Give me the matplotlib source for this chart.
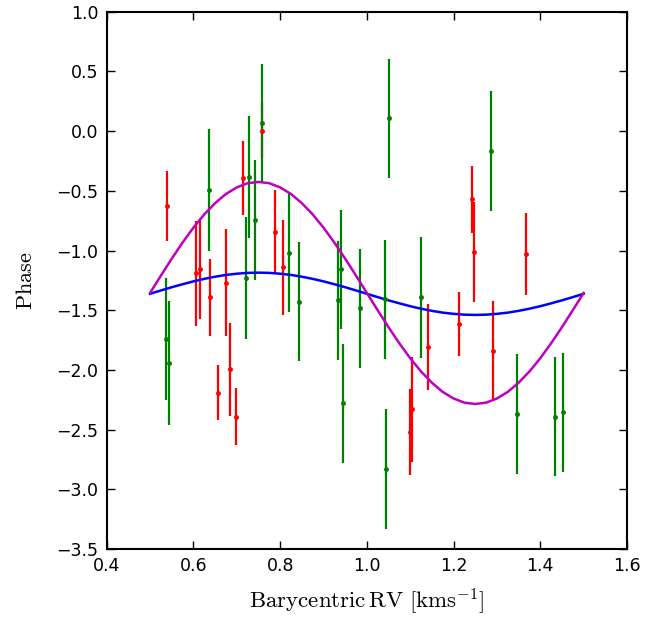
import numpy as np
import matplotlib
matplotlib.use("Agg")
import matplotlib.pyplot as plt

plt.rcParams['mathtext.fontset'] = 'cm'

# red measurements: RV, phase, error
red_rv = [0.540, 0.714, 0.759, 0.787, 0.807, 0.605, 0.615, 0.639, 0.674, 0.656,
          0.684, 0.698, 1.242, 1.246, 1.366, 1.212, 1.142, 1.291, 1.100, 1.104]
red_phase = [-0.627, -0.395, 0.003, -0.843, -1.141, -1.191, -1.155, -1.392, -1.268, -2.191,
             -1.993, -2.392, -0.569, -1.010, -1.029, -1.617, -1.806, -1.842, -2.518, -2.330]
red_err = [0.29, 0.31, 0.23, 0.35, 0.40, 0.44, 0.42, 0.32, 0.45, 0.23,
           0.39, 0.24, 0.28, 0.42, 0.34, 0.27, 0.36, 0.42, 0.36, 0.44]

# green measurements
green_rv = [0.636, 0.728, 0.759, 0.742, 0.722, 0.821, 0.843, 0.934, 0.941, 0.985, 0.945,
            0.536, 0.543, 1.050, 1.287, 1.041, 1.126, 1.044, 1.346, 1.435, 1.452]
green_phase = [-0.493, -0.382, 0.065, -0.745, -1.233, -1.018, -1.429, -1.418, -1.157, -1.484, -2.280,
               -1.744, -1.945, 0.107, -0.167, -1.408, -1.393, -2.830, -2.369, -2.392, -2.355]
green_err = [0.51, 0.51, 0.50, 0.50, 0.51, 0.50, 0.50, 0.50, 0.50, 0.50, 0.50,
             0.51, 0.52, 0.50, 0.50, 0.50, 0.51, 0.50, 0.50, 0.50, 0.50]

# model curves
curve_rv = [0.500, 0.525, 0.550, 0.575, 0.600, 0.625, 0.650, 0.675, 0.700, 0.725,
            0.750, 0.775, 0.800, 0.825, 0.850, 0.875, 0.900, 0.925, 0.950, 0.975,
            1.000, 1.025, 1.050, 1.075, 1.100, 1.125, 1.150, 1.175, 1.200, 1.225,
            1.250, 1.275, 1.300, 1.325, 1.350, 1.375, 1.400, 1.425, 1.450, 1.475, 1.500]
magenta_phase = [-1.355, -1.210, -1.068, -0.933, -0.808, -0.697, -0.603, -0.526, -0.471, -0.436,
                 -0.425, -0.436, -0.471, -0.526, -0.603, -0.697, -0.808, -0.933, -1.068, -1.210,
                 -1.355, -1.500, -1.642, -1.777, -1.902, -2.013, -2.107, -2.184, -2.239, -2.274,
                 -2.285, -2.274, -2.239, -2.184, -2.107, -2.013, -1.902, -1.777, -1.642, -1.500, -1.355]
blue_phase = [-1.362, -1.334, -1.307, -1.282, -1.258, -1.237, -1.219, -1.204, -1.194, -1.187,
              -1.185, -1.187, -1.194, -1.204, -1.219, -1.237, -1.258, -1.282, -1.307, -1.334,
              -1.362, -1.390, -1.417, -1.442, -1.466, -1.487, -1.505, -1.520, -1.530, -1.537,
              -1.539, -1.537, -1.530, -1.520, -1.505, -1.487, -1.466, -1.442, -1.417, -1.390, -1.362]

fig = plt.figure(figsize=(6.67, 6.19), dpi=100)
ax = fig.add_axes([0.16, 0.113, 0.78, 0.868])

ax.errorbar(red_rv, red_phase, yerr=red_err, fmt='.', color=(1, 0, 0), ms=5, elinewidth=1.6, capsize=0)
ax.errorbar(green_rv, green_phase, yerr=green_err, fmt='.', color=(0, 0.5, 0), ms=5, elinewidth=1.6, capsize=0)
ax.plot(curve_rv, blue_phase, color=(0, 0, 1), lw=1.8)
ax.plot(curve_rv, magenta_phase, color=(0.75, 0, 0.75), lw=1.8)

ax.set_xlim(0.4, 1.6)
ax.set_ylim(-3.5, 1.0)
ax.set_xticks(np.arange(0.4, 1.61, 0.2))
ax.set_yticks(np.arange(-3.5, 1.01, 0.5))
ax.tick_params(direction='in', top=True, right=True, length=6, width=1, labelsize=12.5, pad=6)
for s in ax.spines.values():
    s.set_linewidth(1.5)

ax.set_xlabel(r'$\mathrm{Barycentric\,RV\ [kms^{-1}]}$', fontsize=16.5, labelpad=8)
ax.set_ylabel(r'$\mathrm{Phase}$', fontsize=16, labelpad=15)

fig.savefig("out.png", dpi=100)
